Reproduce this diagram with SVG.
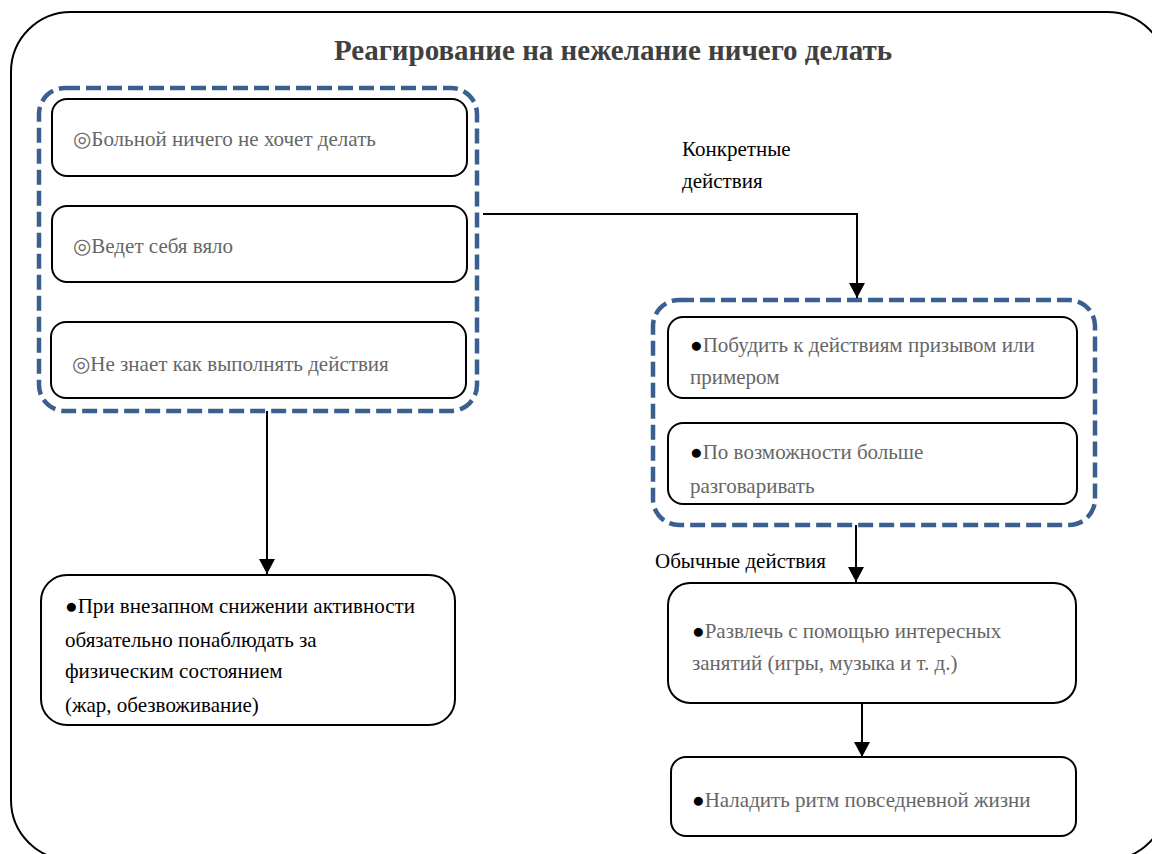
<svg xmlns="http://www.w3.org/2000/svg" width="1152" height="854" viewBox="0 0 1152 854">
  <defs>
    <marker id="arrow" markerWidth="16" markerHeight="16" refX="15" refY="8" orient="auto" markerUnits="userSpaceOnUse" viewBox="0 0 16 16">
      <path d="M0,0 L15,8 L0,16 Z" fill="#000"/>
    </marker>
    <style>
      .frame { fill: #fff; stroke: #000; stroke-width: 2; }
      .box { fill: #fff; stroke: #000; stroke-width: 2; }
      .group { fill: none; stroke: #3B5F8E; stroke-width: 4.5; stroke-dasharray: 15 6; }
      .title { font-size: 29px; font-weight: bold; fill: #404040; }
      .t { font-size: 21px; fill: #666; }
      .tb { font-size: 21px; fill: #000; }
      .mark { fill: #000; }
      .conn { fill: none; stroke: #000; stroke-width: 2; }
    </style>
  </defs>

  <rect width="1152" height="854" fill="#fff"/>
  <!-- outer frame -->
  <rect class="frame" x="11" y="12" width="1156" height="848" rx="60" ry="60"/>

  <g font-family="Liberation Serif, Times New Roman, DejaVu Serif, serif">
  <text class="title" x="613" y="60" text-anchor="middle">Реагирование на нежелание ничего делать</text>

  <!-- problem group -->
  <g id="problems">
    <rect class="group" x="39" y="88" width="438" height="323" rx="26" ry="26"/>
    <g id="p1">
      <rect class="box" x="52" y="99" width="415" height="77" rx="15"/>
      <text class="t" x="73" y="146">◎Больной ничего не хочет делать</text>
    </g>
    <g id="p2">
      <rect class="box" x="52" y="206" width="415" height="76" rx="15"/>
      <text class="t" x="73" y="253">◎Ведет себя вяло</text>
    </g>
    <g id="p3">
      <rect class="box" x="51" y="322" width="415" height="76" rx="15"/>
      <text class="t" x="72" y="371">◎Не знает как выполнять действия</text>
    </g>
  </g>

  <!-- physical check -->
  <g id="physical">
    <rect class="box" x="41" y="575" width="414" height="150" rx="26"/>
    <text class="tb" x="65" y="613">●При внезапном снижении активности</text>
    <text class="tb" x="65" y="647">обязательно понаблюдать за</text>
    <text class="tb" x="65" y="678">физическим состоянием</text>
    <text class="tb" x="65" y="712">(жар, обезвоживание)</text>
  </g>

  <!-- concrete actions group -->
  <g id="concrete">
    <rect class="group" x="653" y="300" width="442" height="225" rx="26" ry="26"/>
    <g id="c1">
      <rect class="box" x="668" y="317" width="409" height="81" rx="15"/>
      <text class="t" x="690" y="352"><tspan class="mark">●</tspan>Побудить к действиям призывом или</text>
      <text class="t" x="690" y="384">примером</text>
    </g>
    <g id="c2">
      <rect class="box" x="668" y="423" width="409" height="81" rx="15"/>
      <text class="t" x="690" y="459"><tspan class="mark">●</tspan>По возможности больше</text>
      <text class="t" x="690" y="493">разговаривать</text>
    </g>
  </g>

  <g id="entertain">
    <rect class="box" x="668" y="583" width="408" height="120" rx="22"/>
    <text class="t" x="692" y="638"><tspan class="mark">●</tspan>Развлечь с помощью интересных</text>
    <text class="t" x="692" y="670">занятий (игры, музыка и т. д.)</text>
  </g>

  <g id="rhythm">
    <rect class="box" x="671" y="757" width="405" height="79" rx="15"/>
    <text class="t" x="692" y="807"><tspan class="mark">●</tspan>Наладить ритм повседневной жизни</text>
  </g>

  <!-- labels -->
  <g id="labels">
    <text class="tb" x="682" y="156">Конкретные</text>
    <text class="tb" x="682" y="188">действия</text>
    <text class="tb" x="655" y="568">Обычные действия</text>
  </g>
  </g>

  <!-- connectors -->
  <g id="connectors">
    <path class="conn" d="M483,214 H857 V298" marker-end="url(#arrow)"/>
    <path class="conn" d="M267,411 V574" marker-end="url(#arrow)"/>
    <path class="conn" d="M856,525 V582" marker-end="url(#arrow)"/>
    <path class="conn" d="M862,703 V757" marker-end="url(#arrow)"/>
  </g>
</svg>
